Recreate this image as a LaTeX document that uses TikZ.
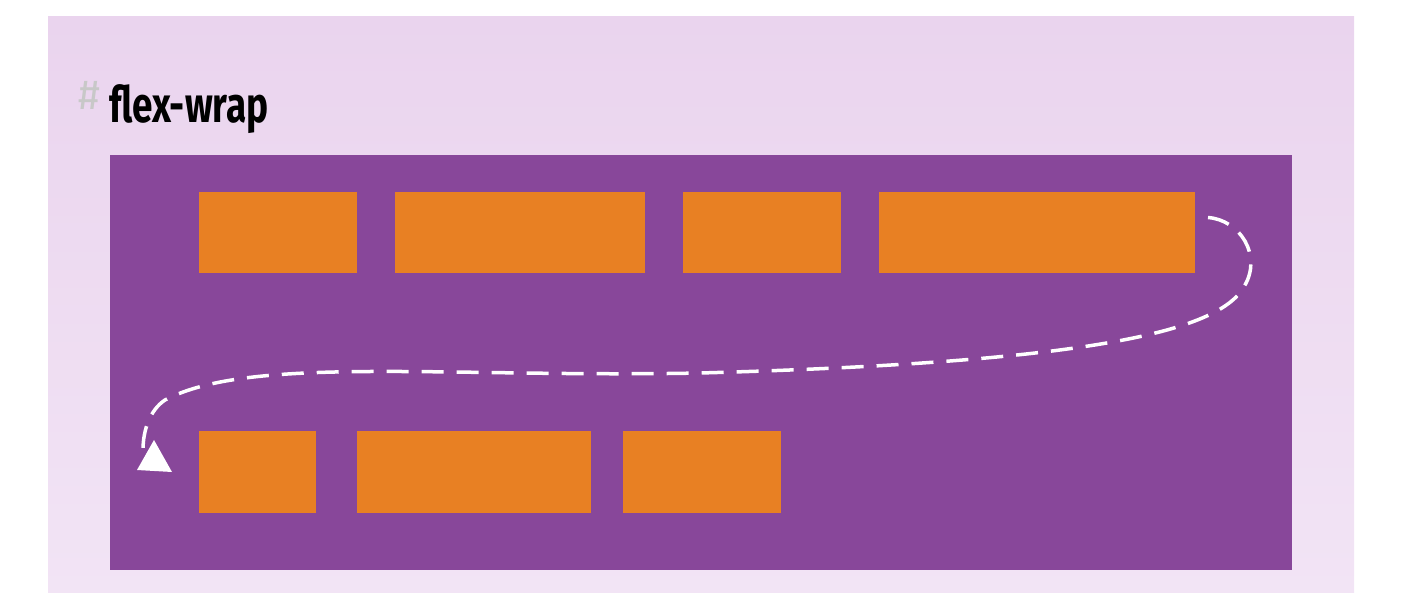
\documentclass[tikz,border=0pt]{standalone}
\usepackage{fontspec}
\newfontfamily\titlefont[FakeStretch=0.74]{Fira Sans}
\newfontfamily\hashfont{Fira Sans}
\usetikzlibrary{positioning}

\definecolor{panelTop}{RGB}{234,212,238}
\definecolor{panelBot}{RGB}{242,228,245}
\definecolor{flexPurple}{RGB}{136,71,154}
\definecolor{itemOrange}{RGB}{232,128,35}
\definecolor{hashGray}{RGB}{200,200,200}

\tikzset{
  item/.style={fill=itemOrange, inner sep=0pt, outer sep=0pt, minimum height=81pt},
  wrapline/.style={draw=white, line width=3.5pt, dash pattern=on 22pt off 13pt}
}

\begin{document}
\begin{tikzpicture}[x=1pt,y=-1pt]
\useasboundingbox (0,0) rectangle (1414,593);
% panel and container
\shade[top color=panelTop, bottom color=panelBot] (48,17) rectangle (1354,593);
\node[fill=flexPurple, inner sep=0pt, minimum width=1182pt, minimum height=415pt] (box) at (701,362.5) {};
% heading
\node[anchor=base west, inner sep=0pt, text=hashGray, font=\hashfont\fontsize{42}{42}\selectfont] (hash) at (78,110) {\#};
\node[anchor=base west, inner sep=0pt, font=\titlefont\bfseries\fontsize{50}{50}\selectfont] (title) at (109,123) {flex-wrap};
% first line
\node[item, minimum width=158pt] (a1) at (278,232.5) {};
\node[item, minimum width=250pt] (a2) at (520,232.5) {};
\node[item, minimum width=158pt] (a3) at (762,232.5) {};
\node[item, minimum width=316pt] (a4) at (1037,232.5) {};
% second line
\node[item, minimum width=117pt, minimum height=82pt] (b1) at (257.5,472) {};
\node[item, minimum width=234pt, minimum height=82pt] (b2) at (474,472) {};
\node[item, minimum width=158pt, minimum height=82pt] (b3) at (702,472) {};
% wrap arrow
\coordinate (wStart) at ([xshift=13pt,yshift=15pt]a4.east);
\coordinate (wEnd) at (143,450);
\draw[wrapline] (wStart) .. controls (1240,220) and (1262,255) .. (1245,285)
  .. controls (1222,330) and (1100,362) .. (700,373)
  .. controls (450,378) and (250,355) .. (165,400)
  .. controls (150,410) and (143,430) .. (wEnd);
\fill[white] (137,470) -- (154,440) -- (172,472) -- cycle;
\end{tikzpicture}
\end{document}
